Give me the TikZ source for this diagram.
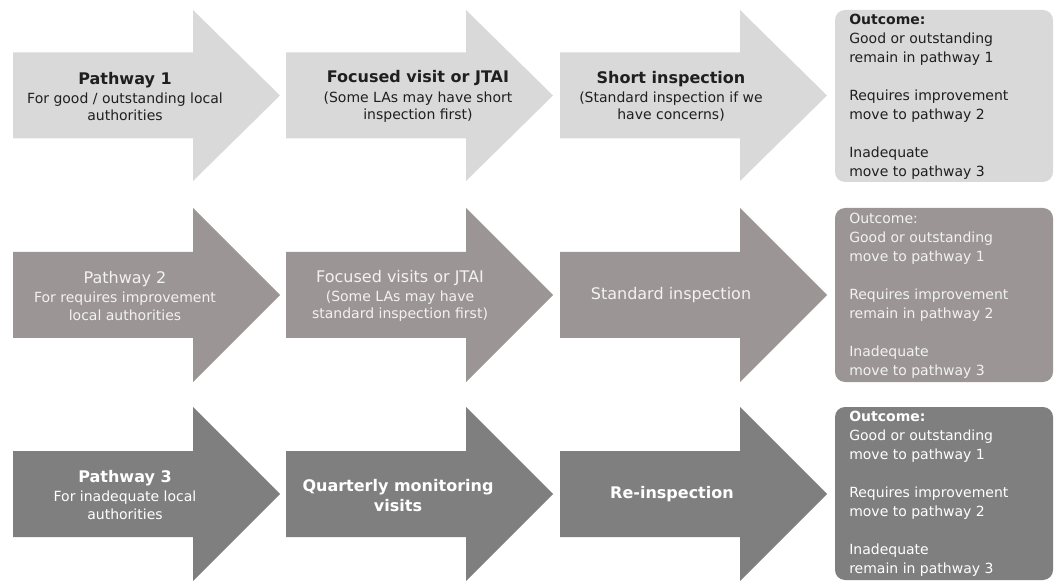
\documentclass[tikz,border=0pt]{standalone}
\usepackage{fontspec}
\setmainfont{DejaVu Sans}
\definecolor{rowA}{HTML}{D9D9D9}
\definecolor{rowB}{HTML}{9C9595}
\definecolor{rowC}{HTML}{7F7F7F}
\definecolor{txtA}{HTML}{1F1F1F}
\definecolor{txtB}{HTML}{F2F2F2}
\definecolor{txtC}{HTML}{FFFFFF}
% #1 left x, #2 top of head, #3 bottom of head, #4 colour
\newcommand{\pwarrow}[4]{%
  \fill[#4] (#1,{(#2+#3)/2-43}) -- ({#1+180},{(#2+#3)/2-43}) -- ({#1+180},#2)
    -- ({#1+267},{(#2+#3)/2}) -- ({#1+180},#3) -- ({#1+180},{(#2+#3)/2+43})
    -- (#1,{(#2+#3)/2+43}) -- cycle;}
\newcommand{\ttlfont}{\fontsize{12pt}{15pt}\selectfont}
\begin{document}
\begin{tikzpicture}[x=0.75pt,y=-0.75pt,
  arrowtext/.style={align=center, inner sep=0pt, font=\fontsize{10.5pt}{13pt}\selectfont},
  outtext/.style={align=left, anchor=north west, inner sep=0pt, font=\fontsize{10.5pt}{14.25pt}\selectfont},
  outbox/.style={rounded corners=7.5pt}]
\useasboundingbox (0,0) rectangle (1058,581);
% ---------- row 1 ----------
\pwarrow{13}{10}{181}{rowA}
\pwarrow{286}{10}{181}{rowA}
\pwarrow{560}{10}{181}{rowA}
\fill[rowA, outbox] (835,10) rectangle (1053,182);
\node[arrowtext, text=txtA] (a1) at (125,96.5)
  {{\ttlfont\bfseries Pathway 1}\\[1.5pt] For good / outstanding local\\ authorities};
\node[arrowtext, text=txtA] (a2) at (418,96.5)
  {{\ttlfont\bfseries Focused visit or JTAI}\\[1.5pt] (Some LAs may have short\\ inspection first)};
\node[arrowtext, text=txtA] (a3) at (671,96.5)
  {{\ttlfont\bfseries Short inspection}\\[1.5pt] (Standard inspection if we\\ have concerns)};
\node[outtext, text=txtA] (o1) at (849,14)
  {\textbf{Outcome:}\\ Good or outstanding\\ remain in pathway 1\\[14.25pt]
   Requires improvement\\ move to pathway 2\\[14.25pt] Inadequate\\ move to pathway 3};
% ---------- row 2 ----------
\pwarrow{13}{208}{382}{rowB}
\pwarrow{286}{208}{382}{rowB}
\pwarrow{560}{208}{382}{rowB}
\fill[rowB, outbox] (835,208) rectangle (1053,382);
\node[arrowtext, text=txtB] (b1) at (125,296)
  {{\ttlfont Pathway 2}\\[1.5pt] For requires improvement\\ local authorities};
\node[arrowtext, text=txtB] (b2) at (400,296)
  {{\ttlfont Focused visits or JTAI}\\[1.5pt] (Some LAs may have\\ standard inspection first)};
\node[arrowtext, text=txtB] (b3) at (671,295)
  {{\ttlfont Standard inspection}};
\node[outtext, text=txtB] (o2) at (849,213)
  {Outcome:\\ Good or outstanding\\ move to pathway 1\\[14.25pt]
   Requires improvement\\ remain in pathway 2\\[14.25pt] Inadequate\\ move to pathway 3};
% ---------- row 3 ----------
\pwarrow{13}{407}{581}{rowC}
\pwarrow{286}{407}{581}{rowC}
\pwarrow{560}{407}{581}{rowC}
\fill[rowC, outbox] (835,407) rectangle (1053,580);
\node[arrowtext, text=txtC] (c1) at (125,495)
  {{\ttlfont\bfseries Pathway 3}\\[1.5pt] For inadequate local\\ authorities};
\node[arrowtext, text=txtC, font=\ttlfont\bfseries] (c2) at (398,496)
  {Quarterly monitoring\\ visits};
\node[arrowtext, text=txtC] (c3) at (672,494)
  {{\ttlfont\bfseries Re-inspection}};
\node[outtext, text=txtC] (o3) at (849,411)
  {\textbf{Outcome:}\\ Good or outstanding\\ move to pathway 1\\[14.25pt]
   Requires improvement\\ move to pathway 2\\[14.25pt] Inadequate\\ remain in pathway 3};
\end{tikzpicture}
\end{document}
